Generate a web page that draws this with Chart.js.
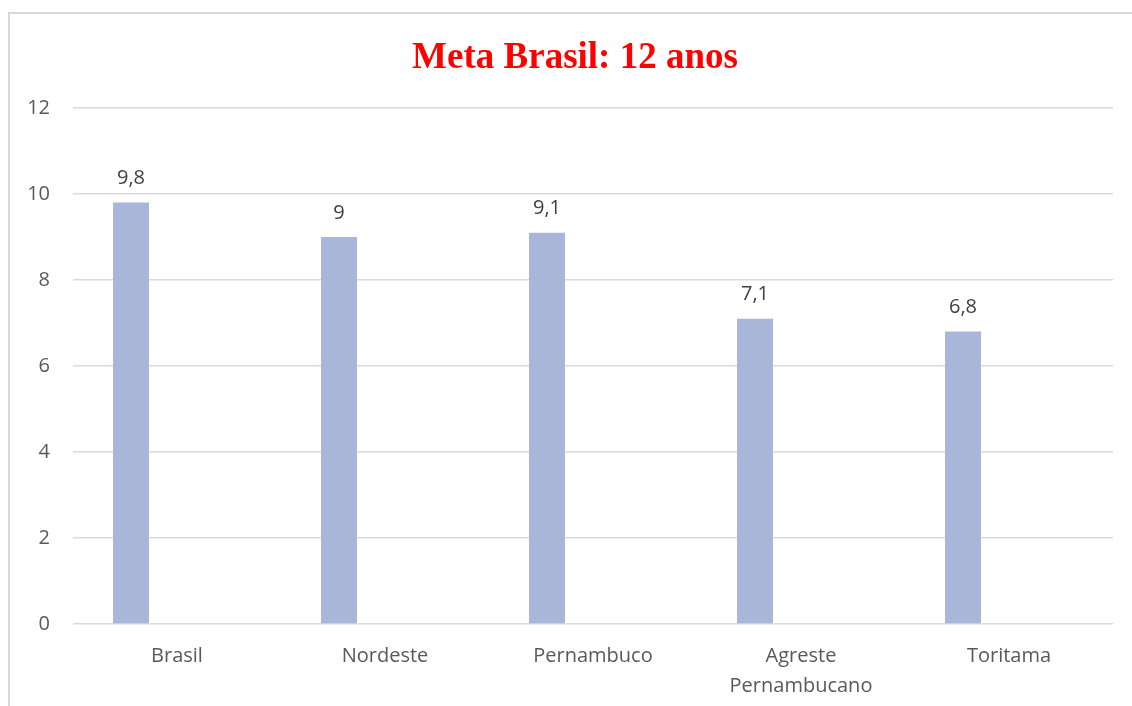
<!DOCTYPE html>
<html>
<head>
<meta charset="utf-8">
<script src="https://cdn.jsdelivr.net/npm/chart.js@4"></script>
<style>
  html, body { margin: 0; padding: 0; background: #fff; }
  #wrap { position: relative; width: 1132px; height: 706px; }
</style>
</head>
<body>
<div id="wrap"><canvas id="myChart" width="1132" height="706"></canvas></div>
<script>
const categories = ['Brasil', 'Nordeste', 'Pernambuco', ['Agreste', 'Pernambucano'], 'Toritama'];
const anos = [9.8, 9, 9.1, 7.1, 6.8];
const vazio = [null, null, null, null, null];
const yTicks = [0, 2, 4, 6, 8, 10, 12];
const titulo = 'Meta Brasil: 12 anos';

const fonte = "'Open Sans', 'Noto Sans', sans-serif";

// outer frame like the Excel chart border, plus the title centred on that frame
const moldura = {
    id: 'moldura',
    beforeDraw(chart) {
        const c = chart.ctx;
        c.save();
        c.fillStyle = '#fff';
        c.fillRect(0, 0, chart.width, chart.height);
        c.strokeStyle = '#d9d9d9';
        c.lineWidth = 2;
        c.strokeRect(9, 13, 1300, 900);
        c.font = "bold 37px 'Liberation Serif', 'Times New Roman', serif";
        c.fillStyle = '#ff0000';
        c.textAlign = 'center';
        c.textBaseline = 'middle';
        c.fillText(titulo, 575, 58);
        c.restore();
    }
};

// value labels above bars, decimal comma
const rotulos = {
    id: 'rotulos',
    afterDatasetsDraw(chart) {
        const c = chart.ctx;
        const meta = chart.getDatasetMeta(0);
        c.save();
        c.font = '20px ' + fonte;
        c.fillStyle = '#404040';
        c.textAlign = 'center';
        c.textBaseline = 'middle';
        meta.data.forEach((bar, i) => {
            const txt = String(anos[i]).replace('.', ',');
            c.fillText(txt, bar.x, bar.y - 24);
        });
        c.restore();
    }
};

const ctx = document.getElementById('myChart');
const myChart = new Chart(ctx, {
    type: 'bar',
    data: {
        labels: categories,
        datasets: [{
            label: 'Anos',
            data: anos,
            backgroundColor: '#a9b6da',
            borderWidth: 0,
            categoryPercentage: 0.8846,
            barPercentage: 0.391
        }, {
            label: '',
            data: vazio,
            backgroundColor: 'transparent',
            categoryPercentage: 0.8846,
            barPercentage: 0.391
        }]
    },
    options: {
        responsive: false,
        animation: false,
        layout: {
            padding: { top: 108, right: 19, bottom: 0, left: 0 }
        },
        scales: {
            x: {
                grid: { display: false },
                border: { display: false },
                ticks: {
                    color: '#595959',
                    font: { family: fonte, size: 20, lineHeight: 1.5 },
                    padding: 9,
                    maxRotation: 0,
                    autoSkip: false
                },
                afterFit(scale) { scale.height = 82; }
            },
            y: {
                min: 0,
                max: 12,
                afterBuildTicks(scale) {
                    scale.ticks = yTicks.map(v => ({ value: v }));
                },
                grid: { color: '#d9d9d9', lineWidth: 1.5, drawTicks: false },
                border: { display: false },
                ticks: {
                    color: '#595959',
                    font: { family: fonte, size: 20 },
                    padding: 23
                },
                afterFit(scale) { scale.width = 73; }
            }
        },
        plugins: {
            legend: { display: false },
            tooltip: { enabled: false },
            title: { display: false }
        }
    },
    plugins: [moldura, rotulos]
});
</script>
</body>
</html>
